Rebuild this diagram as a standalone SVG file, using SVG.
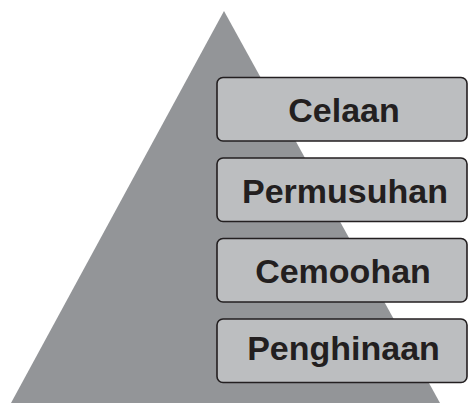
<svg xmlns="http://www.w3.org/2000/svg" width="468" height="403" viewBox="0 0 468 403">
  <style>
    .box { fill: #bcbec0; stroke: #231f20; stroke-width: 1.6; }
    .label { font-family: "Liberation Sans", Arial, sans-serif; font-weight: bold; font-size: 34px; fill: #231f20; text-anchor: middle; }
  </style>
  <rect width="468" height="403" fill="#ffffff"/>
  <!-- background pyramid -->
  <polygon id="pyramid" points="224,11 440,403 11,403" fill="#939598"/>
  <g id="level-celaan">
    <rect class="box" x="217" y="77.5" width="250" height="63.5" rx="6"/>
    <text class="label" x="344" y="122">Celaan</text>
  </g>
  <g id="level-permusuhan">
    <rect class="box" x="217" y="158" width="250" height="63.5" rx="6"/>
    <text class="label" x="345" y="203">Permusuhan</text>
  </g>
  <g id="level-cemoohan">
    <rect class="box" x="217" y="238.5" width="250" height="63.5" rx="6"/>
    <text class="label" x="343" y="283">Cemoohan</text>
  </g>
  <g id="level-penghinaan">
    <rect class="box" x="217" y="319" width="250" height="63.5" rx="6"/>
    <text class="label" x="343.5" y="360">Penghinaan</text>
  </g>
  <g id="connectors"/>
</svg>
